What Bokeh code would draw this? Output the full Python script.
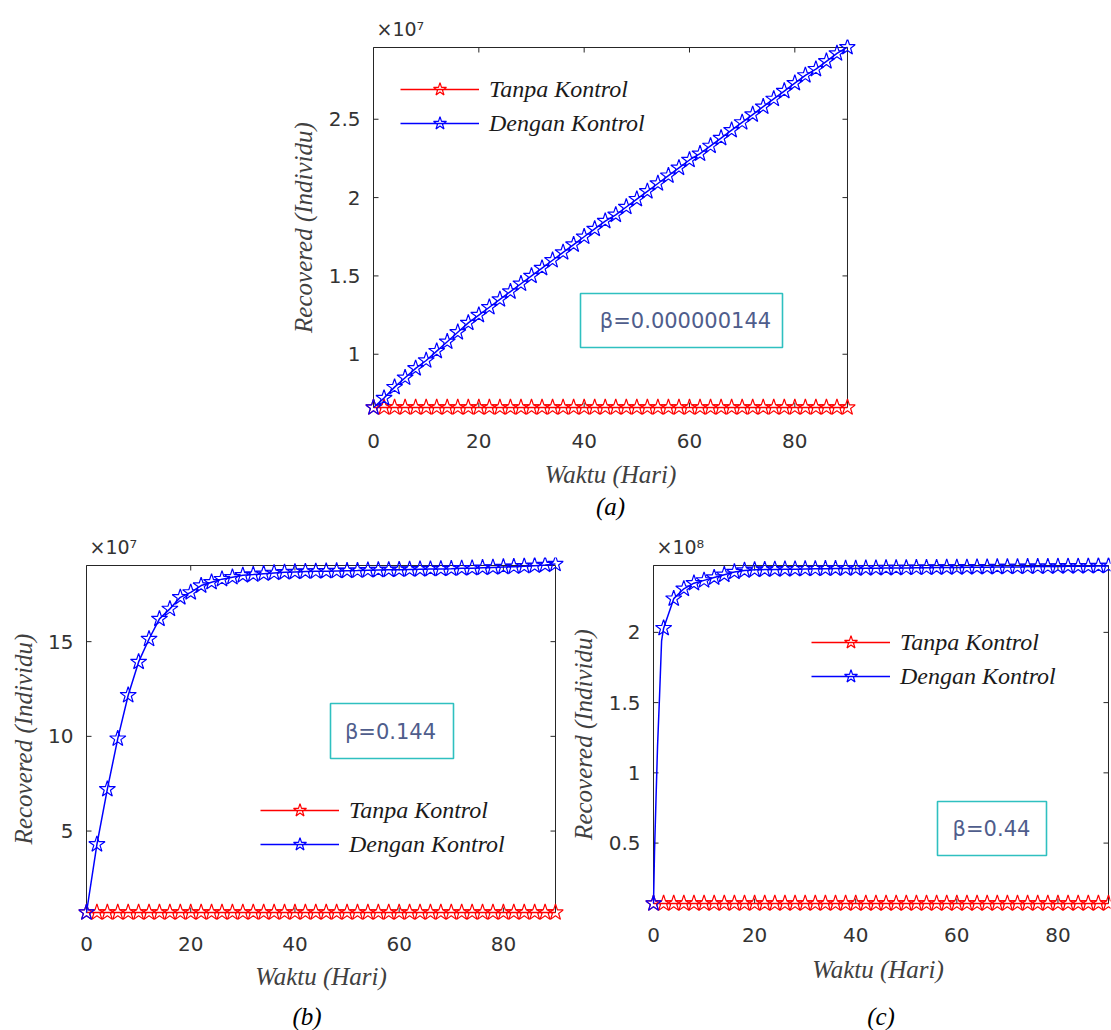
from math import pi
from bokeh.plotting import figure
from bokeh.models import (Range1d, FixedTicker, Legend, LegendItem, Title, Div, Spacer,
                          Label, BoxAnnotation, CustomJSTickFormatter)
from bokeh.layouts import column, row
from bokeh.embed import file_html
from bokeh.resources import INLINE

# ---------------- data ----------------
days = [0, 2, 4, 6, 8, 10, 12, 14, 16, 18, 20, 22, 24, 26, 28, 30, 32, 34, 36, 38, 40, 42, 44,
        46, 48, 50, 52, 54, 56, 58, 60, 62, 64, 66, 68, 70, 72, 74, 76, 78, 80, 82, 84, 86, 88, 90]

# (a) beta = 0.000000144, values in units of 1e7
a_tanpa = [0.66, 0.66, 0.66, 0.66, 0.66, 0.66, 0.66, 0.66, 0.66, 0.66, 0.66, 0.66, 0.66, 0.66, 0.66, 0.66,
           0.66, 0.66, 0.66, 0.66, 0.66, 0.66, 0.66, 0.66, 0.66, 0.66, 0.66, 0.66, 0.66, 0.66, 0.66, 0.66,
           0.66, 0.66, 0.66, 0.66, 0.66, 0.66, 0.66, 0.66, 0.66, 0.66, 0.66, 0.66, 0.66, 0.66]
a_dengan = [0.66, 0.72, 0.79, 0.85, 0.91, 0.96, 1.02, 1.08, 1.14, 1.20, 1.25, 1.30, 1.35, 1.40, 1.45, 1.50,
            1.55, 1.60, 1.65, 1.70, 1.75, 1.80, 1.85, 1.89, 1.94, 1.99, 2.04, 2.09, 2.14, 2.19, 2.24, 2.28,
            2.33, 2.38, 2.43, 2.48, 2.53, 2.58, 2.63, 2.68, 2.73, 2.78, 2.82, 2.87, 2.92, 2.96]

# (b) beta = 0.144, values in units of 1e7
b_tanpa = [0.70, 0.70, 0.70, 0.70, 0.70, 0.70, 0.70, 0.70, 0.70, 0.70, 0.70, 0.70, 0.70, 0.70, 0.70, 0.70,
           0.70, 0.70, 0.70, 0.70, 0.70, 0.70, 0.70, 0.70, 0.70, 0.70, 0.70, 0.70, 0.70, 0.70, 0.70, 0.70,
           0.70, 0.70, 0.70, 0.70, 0.70, 0.70, 0.70, 0.70, 0.70, 0.70, 0.70, 0.70, 0.70, 0.70]
b_dengan = [0.70, 4.30, 7.21, 9.88, 12.17, 13.93, 15.14, 16.20, 16.73, 17.34, 17.60, 17.96, 18.14, 18.30,
            18.40, 18.50, 18.54, 18.59, 18.63, 18.66, 18.68, 18.70, 18.71, 18.72, 18.73, 18.74, 18.75,
            18.77, 18.78, 18.79, 18.80, 18.81, 18.82, 18.83, 18.84, 18.85, 18.87, 18.88, 18.90, 18.92,
            18.94, 18.96, 18.98, 19.01, 19.05, 19.10]

# (c) beta = 0.44, values in units of 1e8
c_tanpa = [0.07, 0.07, 0.07, 0.07, 0.07, 0.07, 0.07, 0.07, 0.07, 0.07, 0.07, 0.07, 0.07, 0.07, 0.07, 0.07,
           0.07, 0.07, 0.07, 0.07, 0.07, 0.07, 0.07, 0.07, 0.07, 0.07, 0.07, 0.07, 0.07, 0.07, 0.07, 0.07,
           0.07, 0.07, 0.07, 0.07, 0.07, 0.07, 0.07, 0.07, 0.07, 0.07, 0.07, 0.07, 0.07, 0.07]
c_dengan = [0.07, 2.03, 2.24, 2.31, 2.35, 2.37, 2.39, 2.41, 2.43, 2.44, 2.445, 2.447, 2.448, 2.449,
            2.450, 2.451, 2.452, 2.453, 2.454, 2.455, 2.455, 2.456, 2.457, 2.458, 2.458, 2.459, 2.460,
            2.460, 2.461, 2.462, 2.462, 2.463, 2.464, 2.464, 2.465, 2.466, 2.466, 2.467, 2.468, 2.468,
            2.469, 2.470, 2.470, 2.471, 2.472, 2.473]
# extra (unmarked) points of the steep start of curve (c)
c_early_days = [0.2, 0.5, 0.8, 1.2, 1.6]
c_early_vals = [0.44, 0.82, 1.19, 1.55, 1.94]

x_ticks = [0, 20, 40, 60, 80]
a_yticks = [1, 1.5, 2, 2.5]
b_yticks = [5, 10, 15]
c_yticks = [0.5, 1, 1.5, 2]
a_ytop, b_ytop, c_ytop = 2.958, 19.02, 2.476

legend_labels = ["Tanpa Kontrol", "Dengan Kontrol"]
beta_texts = ["β=0.000000144", "β=0.144", "β=0.44"]
exponents = ["×10⁷", "×10⁷", "×10⁸"]
captions = ["(a)", "(b)", "(c)"]
x_label = "Waktu (Hari)"
y_label = "Recovered (Individu)"

# ---------------- styling ----------------
AX = "#262626"
NUM_FONT = "DejaVu Sans"
SERIF = "Liberation Serif"
RED = "#ff0000"
BLUE = "#0000ff"
PAD = 8  # room kept around the axes box so edge markers are not cut


def make_panel(fig_rect, box_px, pads, y_start, y_end, y_ticks, tanpa, dengan, line_t, line_v,
               expo, beta, beta_box, beta_xy, leg_loc, xs, xls, ys, yls):
    X0, Y0, W, H = fig_rect
    L, R, T, B = box_px
    el, er, et, eb = pads
    x0, x1 = days[0], days[-1]
    xpx = (x1 - x0) / (R - L)
    ypx = (y_end - y_start) / (B - T)
    p = figure(width=W, height=H, output_backend="svg", toolbar_location=None, tools="",
               x_range=Range1d(x0 - el * xpx, x1 + er * xpx),
               y_range=Range1d(y_start - eb * ypx, y_end + et * ypx),
               min_border_left=int(round(L - X0 - el)), min_border_right=int(round(X0 + W - R - er)),
               min_border_top=int(round(T - Y0 - et)), min_border_bottom=int(round(Y0 + H - B - eb)))
    p.grid.visible = False
    p.outline_line_color = None
    p.background_fill_color = "white"
    p.border_fill_color = "white"

    p.xaxis.ticker = FixedTicker(ticks=x_ticks)
    p.yaxis.ticker = FixedTicker(ticks=y_ticks)
    p.yaxis.formatter = CustomJSTickFormatter(code="return tick.toString();")
    p.xaxis.axis_label = x_label
    p.yaxis.axis_label = y_label
    for ax in (p.xaxis[0], p.yaxis[0]):
        ax.axis_line_color = None
        ax.major_tick_line_color = None
        ax.minor_tick_line_color = None
        ax.major_tick_in = 0
        ax.major_tick_out = 0
        ax.major_label_text_font = NUM_FONT
        ax.major_label_text_font_size = "20px"
        ax.major_label_text_color = "#333333"
        ax.axis_label_text_font = SERIF
        ax.axis_label_text_font_style = "italic"
        ax.axis_label_text_font_size = "25px"
        ax.axis_label_text_color = "#404040"
    p.xaxis.major_label_standoff = xs
    p.xaxis.axis_label_standoff = xls
    p.yaxis.major_label_standoff = ys
    p.yaxis.axis_label_standoff = yls

    # exponent above the axes
    p.title.text = expo
    p.title.align = "left"
    p.title.text_font = NUM_FONT
    p.title.text_font_style = "normal"
    p.title.text_font_size = "19px"
    p.title.text_color = "#333333"
    p.title.offset = el + 3
    p.title.standoff = 0

    # axes box and inward ticks on all four sides
    p.quad(left=x0, right=x1, bottom=y_start, top=y_end, fill_color=None, line_color=AX, line_width=1)
    p.ray(x=x_ticks, y=y_start, length=5, length_units="screen", angle=pi / 2, line_color=AX)
    p.ray(x=x_ticks, y=y_end, length=5, length_units="screen", angle=-pi / 2, line_color=AX)
    p.ray(x=x0, y=y_ticks, length=5, length_units="screen", angle=0, line_color=AX)
    p.ray(x=x1, y=y_ticks, length=5, length_units="screen", angle=pi, line_color=AX)

    rl = p.line(days, tanpa, line_color=RED, line_width=1.5)
    rs = p.scatter(days, tanpa, marker="star", size=17, line_color=RED, fill_color=None, line_width=1.2)
    bln = p.line(line_t, line_v, line_color=BLUE, line_width=1.5)
    bs = p.scatter(days, dengan, marker="star", size=17, line_color=BLUE, fill_color=None, line_width=1.2)

    leg = Legend(items=[LegendItem(label=legend_labels[0], renderers=[rl, rs]),
                        LegendItem(label=legend_labels[1], renderers=[bln, bs])],
                 location=(leg_loc[0] + el, leg_loc[1] + eb), border_line_color=None,
                 background_fill_alpha=0, padding=0, margin=0, spacing=0, glyph_width=79,
                 glyph_height=34, label_height=24, label_standoff=10,
                 label_text_font=SERIF, label_text_font_style="italic",
                 label_text_font_size="24px", label_text_color="#1a1a1a")
    p.add_layout(leg)

    l, r, b, t = beta_box
    p.add_layout(BoxAnnotation(left=l + el, right=r + el, bottom=b + eb, top=t + eb,
                               left_units="screen", right_units="screen",
                               bottom_units="screen", top_units="screen",
                               fill_color=None, line_color="#2fc0c0", line_alpha=1.0, line_width=1.6))
    p.add_layout(Label(x=beta_xy[0] + el, y=beta_xy[1] + eb, x_units="screen", y_units="screen",
                       text=beta, text_align="center", text_baseline="middle", text_font=NUM_FONT,
                       text_font_size="21px", text_color="#4f5d8c"))
    return p


CAP_STYLE = {"font-family": SERIF, "font-style": "italic", "font-size": "25px",
             "text-align": "center", "line-height": "27px", "color": "#000000"}

TOP_H = 522      # height of the upper figure
ROW_Y = TOP_H    # page y where the lower row starts

# figure (a) with its caption as a title below
fa = make_panel((0, 0, 1111, TOP_H), (373.3, 846.7, 47, 407), (PAD, PAD, PAD, PAD),
                a_tanpa[0], a_ytop, a_yticks, a_tanpa, a_dengan, days, a_dengan,
                exponents[0], beta_texts[0], (207, 409, 60, 114), (312, 87), (27, 267), 18, 10, 5, 9)
fa.add_layout(Title(text=captions[0], align="center", text_font=SERIF, text_font_style="italic",
                    text_font_size="25px", text_color="#000000", standoff=0), "below")

# figure (b)
fb = make_panel((0, ROW_Y, 566, 481), (86, 555, 565, 912), (PAD, PAD, PAD, PAD),
                b_tanpa[0], b_ytop, b_yticks, b_tanpa, b_dengan, days, b_dengan,
                exponents[1], beta_texts[1], (244, 367, 154, 209), (304, 181), (174, 51), 16, 9, 5, 8)

# figure (c): line includes the unmarked steep-start points
c_pairs = sorted(list(zip(days, c_dengan)) + list(zip(c_early_days, c_early_vals)))
c_line_t = [pt[0] for pt in c_pairs]
c_line_v = [pt[1] for pt in c_pairs]
fc = make_panel((566, ROW_Y, 545, 472), (653.3, 1108, 565, 903.3), (PAD, 2, PAD, PAD),
                c_tanpa[0], c_ytop, c_yticks, c_tanpa, c_dengan, c_line_t, c_line_v,
                exponents[2], beta_texts[2], (284, 393, 48, 102), (338, 75), (158, 210), 16, 11, 5, 9)

cap_b = Div(text=captions[1], width=40, height=27, margin=0, styles=CAP_STYLE)
cap_c = Div(text=captions[2], width=40, height=27, margin=0, styles=CAP_STYLE)
cap_row = row(Spacer(width=287, height=27), cap_b, Spacer(width=534, height=27), cap_c)

layout = column(fa, row(fb, fc), cap_row)
open("out.html", "w").write(file_html(layout, INLINE))
